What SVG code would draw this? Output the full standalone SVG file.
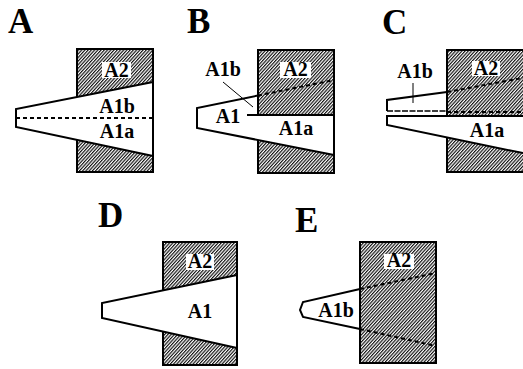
<svg xmlns="http://www.w3.org/2000/svg" width="523" height="369" viewBox="0 0 523 369">
<style>
.lbl{font-family:"Liberation Serif","DejaVu Serif",serif;font-weight:700;font-size:20px;text-anchor:middle;fill:#000}
.big{font-family:"Liberation Serif","DejaVu Serif",serif;font-weight:700;font-size:35px;fill:#000}
.ln{fill:none;stroke:#000;stroke-width:2;stroke-linejoin:miter}
.dash{fill:none;stroke:#000;stroke-width:2;stroke-dasharray:4 3}
.thin{fill:none;stroke:#000;stroke-width:1}
.w{fill:#fff}
.h{fill:url(#hatch)}
</style>
<defs>
<pattern id="hatch" patternUnits="userSpaceOnUse" width="2.4" height="10" patternTransform="rotate(42)">
<rect width="2.4" height="10" fill="#fff"/>
<line x1="0.6" y1="0" x2="0.6" y2="10" stroke="#000" stroke-width="1.1"/>
</pattern>
</defs>
<rect width="523" height="369" fill="#fff"/>

<g id="panelA">
<text class="big" x="8" y="33">A</text>
<rect class="h" x="77" y="49" width="76" height="123"/>
<polygon class="w" points="16,109 153,82 153,156 16,127"/>
<path class="ln" d="M77,97 V49 H153 V172 H77 V140"/>
<path class="ln" d="M153,82 L16,109 V127 L153,156"/>
<path class="dash" d="M16,118 H153"/>
<rect class="w" x="102" y="62" width="29" height="16"/>
<text class="lbl" x="116.5" y="77">A2</text>
<text class="lbl" x="117" y="113">A1b</text>
<text class="lbl" x="117" y="138">A1a</text>
</g>

<g id="panelB">
<text class="big" x="187" y="33">B</text>
<rect class="h" x="258" y="50" width="76" height="123"/>
<polygon class="w" points="197,108 258,95.5 258,140 197,128"/>
<polygon class="w" points="258,115 334,115 334,155 258,140"/>
<path class="ln" d="M258,115 V50 H334 V173 H258 V140"/>
<path class="ln" d="M258,95.5 L197,108 V128 L334,155"/>
<path class="ln" d="M247,115 H334" stroke-width="2.5"/>
<path class="dash" d="M258,95.5 L334,80"/>
<path class="thin" d="M223,82 L253,107"/>
<rect class="w" x="280" y="62" width="31" height="16"/>
<text class="lbl" x="295.5" y="76">A2</text>
<text class="lbl" x="223" y="76">A1b</text>
<text class="lbl" x="228" y="123">A1</text>
<text class="lbl" x="296" y="135">A1a</text>
</g>

<g id="panelC">
<text class="big" x="382" y="34">C</text>
<rect class="h" x="447" y="50" width="83" height="122"/>
<polygon class="w" points="387,100 447,92 447,111 387,111"/>
<polygon class="w" points="387,116 530,116 530,154.5 387,125"/>
<path class="ln" d="M447,116 V50 H530"/>
<path class="ln" d="M447,137.4 V172 H530"/>
<path class="ln" d="M447,92 L387,100 V111"/>
<path d="M387,111 H447" fill="none" stroke="#000" stroke-width="1.5" stroke-dasharray="6 1.5"/>
<path class="dash" d="M447,92 L525,77.5"/>
<path class="dash" d="M447,112 H525"/>
<path class="ln" d="M525,116 H387 V125 L525,153.5"/>
<path class="thin" d="M413,83 V103"/>
<rect class="w" x="472" y="61" width="28" height="15"/>
<text class="lbl" x="486" y="75">A2</text>
<text class="lbl" x="415" y="78">A1b</text>
<text class="lbl" x="487" y="137">A1a</text>
</g>

<g id="panelD">
<text class="big" x="98" y="227">D</text>
<rect class="h" x="163" y="242" width="74" height="123"/>
<polygon class="w" points="102,303 237,275 237,348 102,318"/>
<path class="ln" d="M163,290.3 V242 H237 V365 H163 V331.6"/>
<path class="ln" d="M237,275 L102,303 V318 L237,348"/>
<rect class="w" x="186" y="254" width="28" height="16"/>
<text class="lbl" x="200" y="268">A2</text>
<text class="lbl" x="200" y="318">A1</text>
</g>

<g id="panelE">
<text class="big" x="295" y="232">E</text>
<rect class="h" x="360" y="242" width="76" height="121"/>
<polygon class="w" points="360,289 303,302 300,310 303,317 360,329"/>
<path class="ln" d="M360,242 H436 V363 H360 Z"/>
<path class="ln" d="M360,289 L303,302 L300,310 L303,317 L360,329"/>
<path class="dash" d="M360,289 L436,273"/>
<path class="dash" d="M360,329 L436,346"/>
<rect class="w" x="384" y="254" width="30" height="15"/>
<text class="lbl" x="399" y="267">A2</text>
<text class="lbl" x="336" y="317">A1b</text>
</g>
</svg>
